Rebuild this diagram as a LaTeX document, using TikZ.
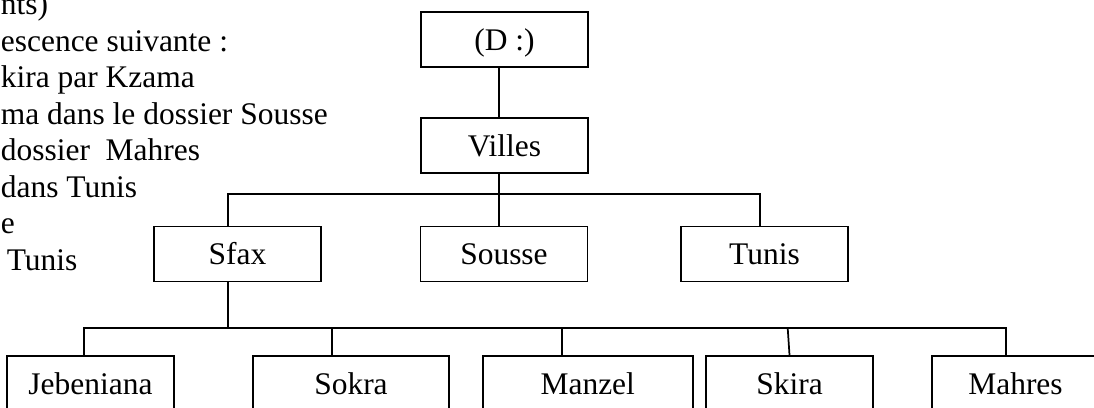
\documentclass[tikz,border=0pt]{standalone}
\usepackage{fontspec}
\setmainfont{Liberation Serif}
\begin{document}
\begin{tikzpicture}[x=0.75pt,y=-0.75pt,line width=1.3pt,
  font=\fontsize{23.6}{28}\selectfont,
  dossier/.style={draw,inner sep=0pt,text height=16.1pt,text depth=0pt,
    minimum width=125.25pt,minimum height=41.25pt},
  ligne/.style={anchor=base west,inner sep=0pt}]
\clip (0,0) rectangle (1094,407);
\node [ligne] (t1) at (0,14.5) {nts)};
\node [ligne] (t2) at (0,51) {escence suivante :};
\node [ligne] (t3) at (0,87.5) {kira par Kzama};
\node [ligne] (t4) at (0,124) {ma dans le dossier Sousse};
\node [ligne] (t5) at (0,160.5) {dossier~~Mahres};
\node [ligne] (t6) at (0,197) {dans Tunis};
\node [ligne] (t7) at (0,233.5) {e};
\node [ligne] (t8) at (6,270) {Tunis};
\node [dossier] (d) at (504.5,39.5) {(D :)};
\node [dossier] (villes) at (504.5,145.5) {Villes};
\node [dossier] (sfax) at (237.5,254) {Sfax};
\node [dossier] (sousse) at (504,254) {Sousse};
\node [dossier] (tunis) at (764.5,254) {Tunis};
\node [dossier] (jebeniana) at (90.5,383.5) {Jebeniana};
\node [dossier,minimum width=147pt] (sokra) at (351,383.5) {Sokra};
\node [dossier,minimum width=157.5pt] (manzel) at (587.75,383.5) {Manzel};
\node [dossier] (skira) at (789.5,383.5) {Skira};
\node [dossier] (mahres) at (1015.5,383.5) {Mahres};
\coordinate (b1) at (499,194);
\coordinate (b2) at (228,328);
\draw (d.south -| b1) -- (villes.north -| b1);
\draw (villes.south -| b1) -- (b1);
\draw (sfax.north -| 228,0) |- (b1) -| (tunis.north -| 760,0);
\draw (b1) -- (sousse.north -| b1);
\draw (sfax.south -| b2) -- (b2);
\draw (jebeniana.north -| 84,0) |- (b2) -| (mahres.north -| 1005.7,0);
\draw (sokra.north -| 332,0) -- (332,328);
\draw (manzel.north -| 561.7,0) -- (561.7,328);
\draw (skira.north) -- (787.7,328);
\end{tikzpicture}
\end{document}
